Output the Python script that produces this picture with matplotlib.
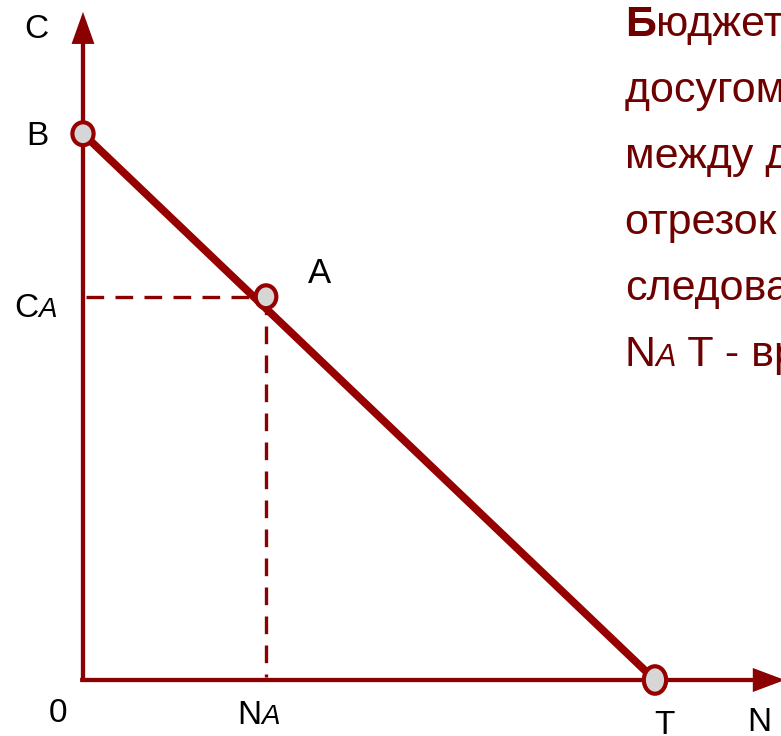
import matplotlib
matplotlib.use('Agg')
import matplotlib.pyplot as plt
from matplotlib.patches import Ellipse
from matplotlib.transforms import IdentityTransform

plt.rcParams['font.family'] = ['Liberation Sans', 'DejaVu Sans']

# точки на бюджетной линии: N - досуг, C - доход
point_names = ['B', 'A', 'T']
point_n = [0.0, 3.2, 10.0]
point_c = [9.55, 6.7, 0.0]

# концы осей (стрелки)
n_axis_end = 12.27
c_axis_end = 11.68

# текст справа (обрезан краем рисунка, как в оригинале)
side_lines = [
    [('Б', 'normal', 'bold'), ('юджетная линия', 'normal', 'normal')],
    [('досугом и доходом', 'normal', 'normal')],
    [('между доходом и', 'normal', 'normal')],
    [('отрезок BT,', 'normal', 'normal')],
    [('следовательно,', 'normal', 'normal')],
    [('N', 'normal', 'normal'), ('A', 'italic', 'normal'), (' T - время', 'normal', 'normal')],
]

line_color = '#960000'
axis_color = '#8b0000'
text_color = '#6e0000'
fill_color = '#d6d6d6'

fig = plt.figure(figsize=(7.81, 7.36), dpi=100)
ax = fig.add_axes([0, 0, 1, 1])
ax.set_xlim(-1.451, 12.203)
ax.set_ylim(-0.979, 11.888)
ax.axis('off')

# оси со стрелками
ax.arrow(-0.05, 0, n_axis_end + 0.05, 0, width=0.075, head_width=0.42, head_length=0.56,
         length_includes_head=True, color=axis_color, lw=0)
ax.arrow(0, -0.03, 0, c_axis_end + 0.03, width=0.075, head_width=0.40, head_length=0.56,
         length_includes_head=True, color=axis_color, lw=0)

# бюджетная линия B-T
ax.plot([point_n[0], point_n[2]], [point_c[0], point_c[2]], color=line_color, lw=5.6,
        solid_capstyle='butt', zorder=3)

# пунктир к точке A
ax.plot([0.06, point_n[1]], [point_c[1], point_c[1]], color=axis_color, lw=2.4,
        dashes=(5.3, 3.4), zorder=2)
ax.plot([point_n[1], point_n[1]], [point_c[1], 0.06], color=axis_color, lw=2.4,
        dashes=(5.3, 3.4), zorder=2)

# кружки в точках
marker_sizes = [(0.37, 0.40), (0.36, 0.40), (0.39, 0.48)]
for n, c, (w, h) in zip(point_n, point_c, marker_sizes):
    ax.add_patch(Ellipse((n, c), w, h, facecolor=fill_color, edgecolor=line_color,
                         lw=3.0, zorder=4))

fig.canvas.draw()
renderer = fig.canvas.get_renderer()


def compose(x, y, parts, size, color, sub_size=None):
    px, py = ax.transData.transform((x, y))
    for s, style, weight in parts:
        fs = sub_size if (style == 'italic' and sub_size) else size
        t = ax.text(px, py, s, transform=IdentityTransform(), fontsize=fs, fontstyle=style,
                    fontweight=weight, color=color, ha='left', va='baseline')
        px += t.get_window_extent(renderer).width


# подписи осей и точек
ax.text(-0.82, 11.22, 'C', fontsize=24, ha='center', va='baseline')
ax.text(-0.79, 9.35, point_names[0], fontsize=24, ha='center', va='baseline')
ax.text(4.14, 6.94, point_names[1], fontsize=25, ha='center', va='baseline')
ax.text(10.16, -0.94, point_names[2], fontsize=24, ha='center', va='baseline')
ax.text(-0.44, -0.73, '0', fontsize=24, ha='center', va='baseline')
ax.text(11.82, -0.89, 'N', fontsize=24, ha='center', va='baseline')
compose(-1.21, 6.35, [('C', 'normal', 'normal'), ('A', 'italic', 'normal')], 24, 'black', 20)
compose(2.69, -0.77, [('N', 'normal', 'normal'), ('A', 'italic', 'normal')], 24, 'black', 20)

side_baselines = [36, 102, 168, 234, 300, 366]
for parts, b in zip(side_lines, side_baselines):
    compose((625 - 83) / 57.2, (680 - b) / 57.2, parts, 31, text_color, 22)

fig.savefig('out.png', dpi=100)
